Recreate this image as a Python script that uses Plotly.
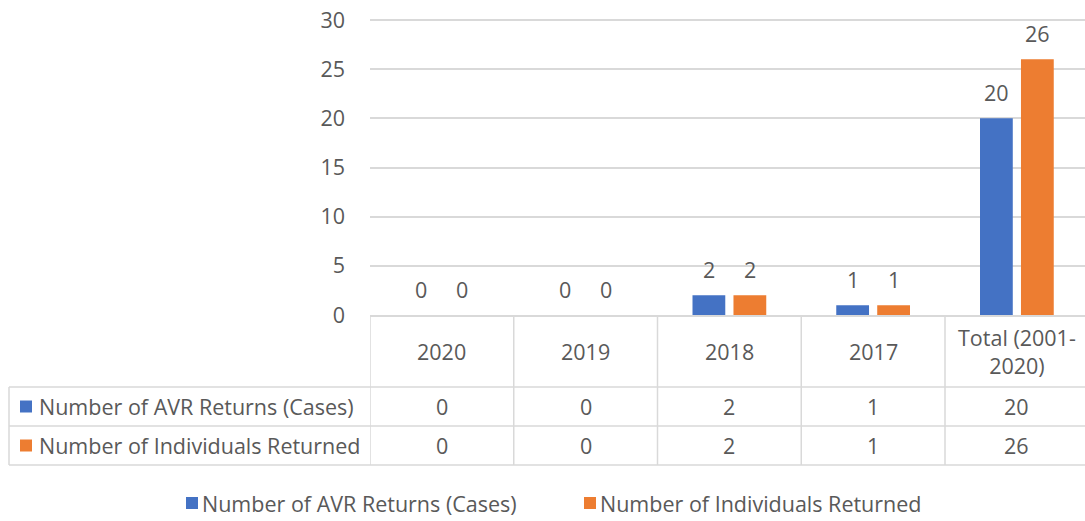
import plotly.graph_objects as go

# ---- data ----
categories = ["2020", "2019", "2018", "2017", "Total (2001-2020)"]
header_labels = ["2020", "2019", "2018", "2017", "Total (2001-<br>2020)"]
series_names = ["Number of AVR Returns (Cases)", "Number of Individuals Returned"]
avr_cases = [0, 0, 2, 1, 20]
individuals = [0, 0, 2, 1, 26]
y_ticks = [0, 5, 10, 15, 20, 25, 30]

# ---- style ----
PAGE_OFF = 0                      # page body margin is removed below
W, H = 1085 - PAGE_OFF, 521 - PAGE_OFF
colors = ["#4472C4", "#ED7D31"]
TXT = "#595959"
GRID = "#D9D9D9"
FONT = "Open Sans"
FS = 21.5

def px(x):
    return (x - PAGE_OFF) / W

def py(y):
    return 1 - (y - PAGE_OFF) / H

PLOT_L, PLOT_B = 370, 315
PX_PER_UNIT = (315 - 20) / 30.0   # value 30 sits at pixel row 20
Y_MAX = 30.8
PLOT_T = PLOT_B - Y_MAX * PX_PER_UNIT
COL_W = 143.75
ROW_LINES = [387, 426, 465]
TABLE_L = 9
LEGEND_Y = 503
LEGEND_X = [186, 584]

fig = go.Figure()
series = [avr_cases, individuals]
for name, vals, col in zip(series_names, series, colors):
    fig.add_trace(go.Bar(x=categories, y=vals, name=name, marker=dict(color=col, line=dict(width=0))))

x_end = -0.5 + (1085 - PLOT_L) / COL_W

shapes = []
for yy in ROW_LINES:
    shapes.append(dict(type="line", xref="paper", yref="paper", x0=px(TABLE_L), x1=1, y0=py(yy), y1=py(yy),
                       line=dict(color=GRID, width=1.5)))
shapes.append(dict(type="line", xref="paper", yref="paper", x0=px(TABLE_L), x1=px(TABLE_L),
                   y0=py(ROW_LINES[0]), y1=py(ROW_LINES[-1]), line=dict(color=GRID, width=1.5)))
for i in range(len(categories)):
    shapes.append(dict(type="line", xref="x", yref="paper", x0=i - 0.5, x1=i - 0.5,
                       y0=py(PLOT_B), y1=py(ROW_LINES[-1]), line=dict(color=GRID, width=1.5)))

annotations = []
tf = dict(family=FONT, size=FS, color=TXT)
# header labels
for i, lab in enumerate(header_labels):
    annotations.append(dict(x=i, xref="x", y=py((PLOT_B + ROW_LINES[0]) / 2), yref="paper",
                            text=lab, showarrow=False, font=tf, xanchor="center", yanchor="middle"))
# table values + row labels
row_tops = [ROW_LINES[0], ROW_LINES[1]]
row_bots = [ROW_LINES[1], ROW_LINES[2]]
for r, (name, vals, col) in enumerate(zip(series_names, series, colors)):
    yc = (row_tops[r] + row_bots[r]) / 2
    for i, v in enumerate(vals):
        annotations.append(dict(x=i, xref="x", y=py(yc), yref="paper", text=str(v), showarrow=False,
                                font=tf, xanchor="center", yanchor="middle"))
    annotations.append(dict(x=px(37), xref="paper", y=py(yc), yref="paper", text=name, showarrow=False,
                            font=tf, xanchor="left", yanchor="middle"))
    shapes.append(dict(type="rect", xref="paper", yref="paper", x0=px(20), x1=px(32),
                       y0=py(yc + 6), y1=py(yc - 6), fillcolor=col, line=dict(width=0)))
# data labels above bars
for vals, shift in zip(series, [-20.5, 20.5]):
    for i, v in enumerate(vals):
        annotations.append(dict(x=i, xref="x", y=v, yref="y", text=str(v), showarrow=False,
                                xshift=shift, yshift=26, font=tf, xanchor="center", yanchor="middle"))
# legend (drawn below the table)
for name, col, lx in zip(series_names, colors, LEGEND_X):
    shapes.append(dict(type="rect", xref="paper", yref="paper", x0=px(lx), x1=px(lx + 12),
                       y0=py(LEGEND_Y + 6), y1=py(LEGEND_Y - 6), fillcolor=col, line=dict(width=0)))
    annotations.append(dict(x=px(lx + 14), xref="paper", y=py(LEGEND_Y), yref="paper", text=name,
                            showarrow=False, font=tf, xanchor="left", yanchor="middle"))

fig.update_layout(
    width=W, height=H,
    margin=dict(l=0, r=0, t=0, b=0, autoexpand=False),
    paper_bgcolor="white", plot_bgcolor="white",
    barmode="group", bargap=0.43, bargroupgap=0.2,
    font=tf,
    showlegend=False,
    xaxis=dict(type="category", domain=[px(PLOT_L), 1], range=[-0.5, x_end],
               showticklabels=False, showgrid=False, showline=True, linecolor=GRID, linewidth=1.5,
               zeroline=False, fixedrange=True, automargin=False),
    yaxis=dict(domain=[py(PLOT_B), py(PLOT_T)], range=[0, Y_MAX], tickvals=y_ticks, showgrid=True,
               gridcolor=GRID, gridwidth=1.5, zeroline=False, showline=False, ticks="",
               ticklabelstandoff=24, ticklabeloverflow="allow", tickfont=tf, automargin=False),
    shapes=shapes, annotations=annotations,
)

fig.write_html("out.html", config={"displayModeBar": False},
               post_script="document.body.style.margin='0px';document.body.style.overflow='hidden';")
